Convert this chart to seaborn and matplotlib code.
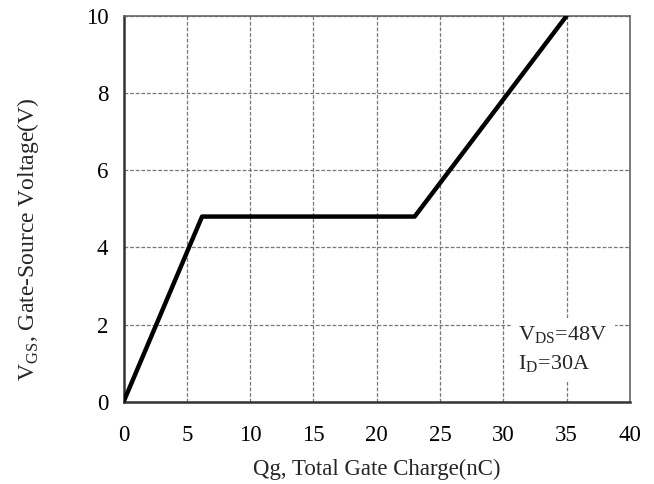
import matplotlib
matplotlib.use("Agg")
import matplotlib.pyplot as plt
import pandas as pd
import seaborn as sns

# Gate charge curve
qg_nc = [0.0, 6.2, 23.0, 35.0]
vgs_v = [0.0, 4.8, 4.8, 10.0]
x_ticks = [0, 5, 10, 15, 20, 25, 30, 35, 40]
y_ticks = [0, 2, 4, 6, 8, 10]

df = pd.DataFrame({"qg": qg_nc, "vgs": vgs_v})

sns.set_style("white")
plt.rcParams["font.family"] = ["Liberation Serif", "DejaVu Serif"]
plt.rcParams["mathtext.fontset"] = "custom"
plt.rcParams["mathtext.rm"] = "Liberation Serif"

fig = plt.figure(figsize=(6.54, 4.84), dpi=100)
ax = fig.add_axes([0.189, 0.170, 0.774, 0.797])

sns.lineplot(data=df, x="qg", y="vgs", ax=ax, color="black", linewidth=3.2,
             sort=False, zorder=3)

ax.set_xlim(0, 40)
ax.set_ylim(0, 10)
ax.set_xticks(x_ticks)
ax.set_yticks(y_ticks)
ax.grid(True, color="#777777", linestyle=(0, (3, 1.5)), linewidth=0.9)
ax.tick_params(axis="both", length=0, labelsize=16.5, colors="black")
ax.tick_params(axis="x", pad=17)
ax.tick_params(axis="y", pad=11)

for side in ["top", "right"]:
    ax.spines[side].set_color("#666666")
    ax.spines[side].set_linewidth(1.2)
for side in ["left", "bottom"]:
    ax.spines[side].set_color("#333333")
    ax.spines[side].set_linewidth(1.8)

ax.set_xlabel("Qg, Total Gate Charge(nC)", fontsize=16.5)
ax.xaxis.set_label_coords(0.5, -0.148)
ax.set_ylabel(r"V$_{\mathrm{GS}}$, Gate-Source Voltage(V)", fontsize=17)
ax.yaxis.set_label_coords(-0.164, 0.42)

ax.text(31.2, 1.35, "V$_{\\mathrm{DS}}$=48V\nI$_{\\mathrm{D}}$=30A", fontsize=16,
        ha="left", va="center", linespacing=1.45, zorder=4,
        bbox=dict(facecolor="white", edgecolor="none", pad=5))

fig.savefig("out.png", dpi=100)
